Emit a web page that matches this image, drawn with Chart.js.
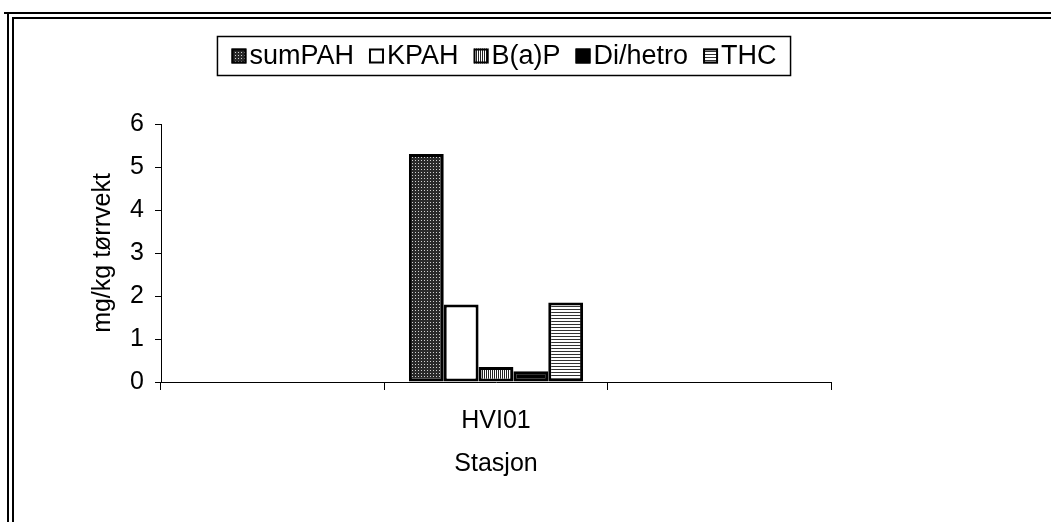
<!DOCTYPE html>
<html>
<head>
<meta charset="utf-8">
<script src="https://cdn.jsdelivr.net/npm/chart.js@4.4.0/dist/chart.umd.min.js"></script>
<style>
    html, body { margin: 0; padding: 0; background: #fff; }
    #wrap { width: 1051px; height: 522px; }
</style>
</head>
<body>
<div id="wrap"><canvas id="grafico" width="1051" height="522"></canvas></div>
<script>
// data lest av fra figuren
const stasjoner = ['', 'HVI01', ''];
const sumPAH = [null, 5.3, null];
const KPAH = [null, 1.8, null];
const BaP = [null, 0.35, null];
const DiHetro = [null, 0.25, null];
const THC = [null, 1.85, null];
const yTicks = [0, 1, 2, 3, 4, 5, 6];

const FONT = '"Liberation Sans", Arial, sans-serif';
const canvas = document.getElementById('grafico');
const ctx = canvas.getContext('2d');

// skraveringer som i Excel
function lagMonster(type) {
    const c = document.createElement('canvas');
    c.width = 3; c.height = 3;
    const g = c.getContext('2d');
    if (type == 'prikk') {
        g.fillStyle = '#2a2a2a'; g.fillRect(0, 0, 3, 3);
        g.fillStyle = '#d0d0d0'; g.fillRect(1, 1, 1, 1);
    } else if (type == 'vertikal') {
        c.width = 2; c.height = 2;
        g.fillStyle = '#fff'; g.fillRect(0, 0, 2, 2);
        g.fillStyle = '#222'; g.fillRect(0, 0, 1, 2);
    } else if (type == 'horisontal') {
        g.fillStyle = '#fff'; g.fillRect(0, 0, 3, 3);
        g.fillStyle = '#333'; g.fillRect(0, 0, 3, 1);
    }
    return ctx.createPattern(c, 'repeat');
}

// dobbel ramme oppe og til venstre
const ramme = {
    id: 'ramme',
    afterDraw(chart) {
        const c = chart.ctx;
        c.save();
        c.fillStyle = '#000';
        c.fillRect(4, 12, 1047, 2);
        c.fillRect(7, 12, 2, 510);
        c.fillRect(12, 17, 1039, 2);
        c.fillRect(12, 17, 2, 505);
        c.restore();
    }
};

// forklaring med ramme rundt
const forklaring = {
    id: 'forklaring',
    afterDraw(chart) {
        const c = chart.ctx;
        const sett = chart.data.datasets;
        c.save();
        c.font = '27px ' + FONT;
        const boks = 15, gap = 3, mellom = 15, pad = 14;
        const bredder = sett.map(d => c.measureText(d.label).width);
        const total = pad * 2 + bredder.reduce((a, b) => a + b, 0) + sett.length * (boks + gap) + (sett.length - 1) * mellom;
        const midtX = 504, midtY = 56, hoyde = 39;
        let x = midtX - total / 2;
        c.strokeStyle = '#000';
        c.lineWidth = 1.5;
        c.strokeRect(x, midtY - hoyde / 2, total, hoyde);
        x += pad;
        sett.forEach((d, i) => {
            c.fillStyle = d.backgroundColor;
            c.fillRect(x, midtY - boks / 2, boks, boks);
            c.lineWidth = 2;
            c.strokeRect(x + 1, midtY - boks / 2 + 1, boks - 2, boks - 2);
            x += boks + gap;
            c.fillStyle = '#000';
            c.textBaseline = 'middle';
            c.fillText(d.label, x, midtY + 1);
            x += bredder[i] + mellom;
        });
        c.restore();
    }
};

const felles = { borderColor: '#000', borderWidth: 3, borderSkipped: false };

new Chart(ctx, {
    type: 'bar',
    data: {
        labels: stasjoner,
        datasets: [
            { label: 'sumPAH', data: sumPAH, backgroundColor: lagMonster('prikk'), ...felles },
            { label: 'KPAH', data: KPAH, backgroundColor: '#fff', ...felles },
            { label: 'B(a)P', data: BaP, backgroundColor: lagMonster('vertikal'), ...felles },
            { label: 'Di/hetro', data: DiHetro, backgroundColor: '#000', ...felles },
            { label: 'THC', data: THC, backgroundColor: lagMonster('horisontal'), ...felles }
        ]
    },
    options: {
        responsive: false,
        animation: false,
        devicePixelRatio: 1,
        categoryPercentage: 0.78,
        barPercentage: 1,
        layout: { padding: { top: 124, right: 220, bottom: 0, left: 0 } },
        plugins: { legend: { display: false }, tooltip: { enabled: false } },
        scales: {
            x: {
                grid: { display: true, drawOnChartArea: false, drawTicks: true, tickLength: 8, color: '#000', offset: true },
                border: { display: true, color: '#000', width: 1 },
                ticks: { color: '#000', font: { family: FONT, size: 25 }, padding: 16 },
                title: { display: true, text: 'Stasjon', color: '#000', font: { family: FONT, size: 25 }, padding: { top: 0, bottom: 43 } },
                afterFit(s) { s.height = 140; }
            },
            y: {
                min: 0,
                max: 6,
                afterBuildTicks(s) { s.ticks = yTicks.map(v => ({ value: v })); },
                grid: { display: true, drawOnChartArea: false, drawTicks: true, tickLength: 6, color: '#000' },
                border: { display: true, color: '#000', width: 1 },
                ticks: { color: '#000', font: { family: FONT, size: 25 }, padding: 11 },
                title: { display: true, text: 'mg/kg tørrvekt', color: '#000', font: { family: FONT, size: 25 }, padding: { top: 88, bottom: 0 } },
                afterFit(s) { s.width = 161; }
            }
        }
    },
    plugins: [ramme, forklaring]
});
</script>
</body>
</html>
